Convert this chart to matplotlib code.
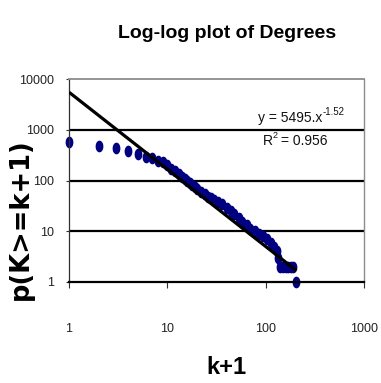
import numpy as np
import matplotlib
matplotlib.use('Agg')
import matplotlib.pyplot as plt
from matplotlib.path import Path
from matplotlib.ticker import NullLocator

# ---------------- data ----------------
k_plus_1 = [1, 2, 3, 4, 5, 6, 7, 8, 9, 10,
            11, 12, 13, 14, 15, 16, 17, 18, 19, 20,
            22, 24, 26, 28, 30, 33, 36, 40, 44, 48,
            53, 58, 64, 70, 77, 85, 93, 102, 112, 122,
            130, 135, 140, 150, 160, 170, 180, 190, 205]
counts = [585, 488, 434, 384, 339, 296, 275, 247, 230, 200,
          172, 152, 132, 118, 106, 98, 91, 83, 75, 69,
          59, 53, 48, 45, 42, 38, 34, 29, 25, 22,
          18, 15, 13, 11, 10, 9, 8, 7, 6, 5,
          4, 3, 2, 2, 2, 2, 2, 2, 1]

fit_coef = 5495
fit_exp = -1.52
r_squared = 0.956

x_ticks = [1, 10, 100, 1000]
x_tick_labels = ['1', '10', '100', '1000']
y_ticks = [1, 10, 100, 1000, 10000]
y_tick_labels = ['1', '10', '100', '1000', '10000']

title = 'Log-log plot of Degrees'
x_label = 'k+1'
y_label = 'p(K>=k+1)'

# ---------------- styling ----------------
sans = ['Liberation Sans', 'DejaVu Sans']
plt.rcParams['font.family'] = sans

W, H = 381, 383
fig = plt.figure(figsize=(W / 100, H / 100), dpi=100)
fig.patch.set_facecolor('white')

ax = fig.add_axes([69 / W, (H - 282) / H, 295 / W, 203 / H])
ax.set_xscale('log')
ax.set_yscale('log')
ax.set_xlim(1, 1000)
ax.set_ylim(1, 10000)

# horizontal gridlines
for gy in y_ticks[1:-1]:
    ax.axhline(gy, color='black', lw=1.6, zorder=1)

# elliptical marker (chart is horizontally squeezed)
theta = np.linspace(0, 2 * np.pi, 48)
ell = Path(np.column_stack([0.62 * np.cos(theta), np.sin(theta)]), closed=True)

ax.plot(k_plus_1, counts, linestyle='none', marker=ell, markersize=7.4,
        markerfacecolor='#000080', markeredgecolor='#000080', zorder=2,
        clip_on=False)

# power-law trendline over the data range
xs = np.logspace(np.log10(min(k_plus_1)), np.log10(max(k_plus_1)), 200)
ax.plot(xs, fit_coef * xs ** fit_exp, color='black', lw=2.3, zorder=3,
        solid_capstyle='butt')

# spines
ax.spines['top'].set_color('#8c8c8c')
ax.spines['top'].set_linewidth(1.3)
ax.spines['right'].set_color('#8c8c8c')
ax.spines['right'].set_linewidth(1.0)
ax.spines['left'].set_color('#303030')
ax.spines['left'].set_linewidth(0.9)
ax.spines['bottom'].set_color('black')
ax.spines['bottom'].set_linewidth(1.6)

# ticks
ax.set_xticks(x_ticks)
ax.set_xticklabels(x_tick_labels)
ax.set_yticks(y_ticks)
ax.set_yticklabels(y_tick_labels)
ax.xaxis.set_minor_locator(NullLocator())
ax.yaxis.set_minor_locator(NullLocator())
ax.tick_params(axis='x', direction='out', length=4.5, width=0.8,
               color='#303030', pad=25, labelsize=9, labelcolor='#222222')
ax.tick_params(axis='y', direction='out', length=2.5, width=0.8,
               color='#303030', pad=8, labelsize=9, labelcolor='#222222')

# equation text: "y = 5495.x" + superscript exponent
fig.text(322 / W, 1 - 118 / H, 'y = %d.x' % fit_coef, ha='right', va='center',
         fontsize=10, color='#111111')
fig.text(322.5 / W, 1 - 112 / H, '%.2f' % fit_exp, ha='left', va='center',
         fontsize=7, color='#111111')
fig.text(273 / W, 1 - 141 / H, 'R', ha='right', va='center',
         fontsize=10, color='#111111')
fig.text(273 / W, 1 - 136 / H, '2', ha='left', va='center',
         fontsize=6.5, color='#111111')
fig.text(281 / W, 1 - 141 / H, '= %.3f' % r_squared, ha='left', va='center',
         fontsize=10, color='#111111')

# title and axis labels
fig.text(227 / W, 1 - 33 / H, title, ha='center', va='center',
         fontsize=14, fontweight='bold')
fig.text(226 / W, 1 - 367 / H, x_label, ha='center', va='center',
         fontsize=17, fontweight='bold')
fig.text(21 / W, 1 - 219 / H, y_label, ha='center', va='center', rotation=90,
         fontsize=18.5, fontweight='bold', family=['DejaVu Sans'])

fig.savefig('out.png', dpi=100, facecolor='white')
